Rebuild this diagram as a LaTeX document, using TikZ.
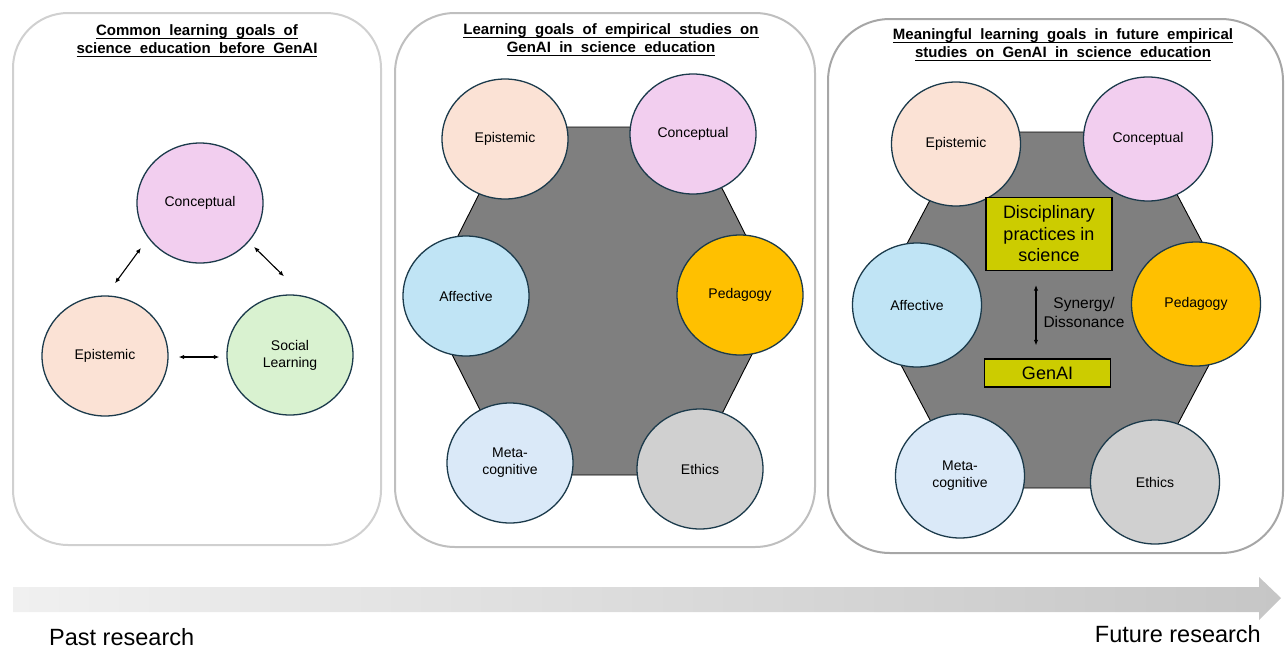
\documentclass[tikz,border=0pt]{standalone}
\usepackage{fontspec}
\setmainfont{Liberation Sans}
\newfontfamily\titlefont[WordSpace=2]{Liberation Sans}
\usetikzlibrary{shapes.geometric,arrows.meta,calc}

\definecolor{panelA}{HTML}{D0D0D0}
\definecolor{panelB}{HTML}{BFBFBF}
\definecolor{panelC}{HTML}{A6A6A6}
\definecolor{ring}{HTML}{1B3A4B}
\definecolor{cConc}{HTML}{F2CEEF}
\definecolor{cEpi}{HTML}{FBE2D5}
\definecolor{cSoc}{HTML}{D9F2D0}
\definecolor{cAff}{HTML}{C0E4F5}
\definecolor{cPed}{HTML}{FFC000}
\definecolor{cMeta}{HTML}{DAE9F8}
\definecolor{cEth}{HTML}{D0D0D0}
\definecolor{hexfill}{HTML}{7F7F7F}
\definecolor{olivebox}{HTML}{CCCC00}
\definecolor{barL}{HTML}{F0F0F0}
\definecolor{barR}{HTML}{C6C6C6}

% underlined heading line: rule just under the baseline
\newcommand\ulined[1]{\setbox0=\hbox{#1}\dp0=0pt\vtop{\copy0\kern1.8pt\hrule height 1.3pt}}

\begin{document}
\begin{tikzpicture}[x=1pt,y=-1pt,
  panel/.style={line width=2, rounded corners=#1},
  heading/.style={align=center, inner sep=0, font={\titlefont\bfseries\fontsize{15}{18}\selectfont}},
  goal/.style={ellipse, draw=ring, line width=1.3, inner sep=0, align=center,
               minimum width=126, minimum height=120, font={\fontsize{14}{17}\selectfont}},
  biggoal/.style={goal, minimum width=129, minimum height=124},
  hexa/.style={fill=hexfill, draw=black, line width=0.9},
  practice/.style={draw=black, fill=olivebox, line width=1.2, inner sep=0, align=center,
                   font={\fontsize{18}{21.5}\selectfont}},
  link/.style={line width=1.1, {Latex[length=5.5,width=4.5]}-{Latex[length=5.5,width=4.5]}},
]
\useasboundingbox (0,0) rectangle (1285,648);

% ---------- panel frames ----------
\draw[panel=55, draw=panelA] (13,13) rectangle (381,545);
\draw[panel=60, draw=panelB] (395,13) rectangle (815,547);
\draw[panel=62, draw=panelC] (828,19) rectangle (1283,553);

% ---------- panel 1: before GenAI ----------
\node[heading] (t1) at (197,41) {\ulined{Common learning goals of}\\\ulined{science education before GenAI}};
\node[goal, fill=cConc] (a1) at (200,203) {Conceptual};
\node[goal, fill=cEpi]  (b1) at (105,356) {Epistemic};
\node[goal, fill=cSoc]  (c1) at (290,355) {Social\\Learning};
\draw[link] ([shift={(10,-12)}]b1.north) -- ([shift={(-14,2)}]a1.south west);
\draw[link] ([shift={(9,1)}]a1.south east) -- ([shift={(-6,-18)}]c1.north);
\draw[link] ([shift={(10,1)}]b1.east) -- ([shift={(-7,2)}]c1.west);

% ---------- panel 2: empirical studies on GenAI ----------
\node[heading] (t2) at (611,40) {\ulined{Learning goals of empirical studies on}\\\ulined{GenAI in science education}};
\draw[hexa] (513,127) -- (691,127) -- (779,301) -- (691,475) -- (513,475) -- (425,301) -- cycle;
\node[goal, fill=cEpi]  (epi2)  at (505,139) {Epistemic};
\node[goal, fill=cConc] (con2)  at (693,134) {Conceptual};
\node[goal, fill=cAff]  (aff2)  at (466,296) {Affective};
\node[goal, fill=cPed]  (ped2)  at (740,295) {Pedagogy};
\node[goal, fill=cMeta] (meta2) at (510,463) {Meta-\\cognitive};
\node[goal, fill=cEth]  (eth2)  at (700,469) {Ethics};

% ---------- panel 3: future empirical studies ----------
\node[heading] (t3) at (1063,45) {\ulined{Meaningful learning goals in future empirical}\\\ulined{studies on GenAI in science education}};
\draw[hexa] (966,132) -- (1144,132) -- (1238,310) -- (1144,488) -- (966,488) -- (872,310) -- cycle;
\node[biggoal, fill=cEpi]  (epi3)  at (956,144) {Epistemic};
\node[biggoal, fill=cConc] (con3)  at (1148,139) {Conceptual};
\node[biggoal, fill=cAff]  (aff3)  at (917,305) {Affective};
\node[biggoal, fill=cPed]  (ped3)  at (1196,304) {Pedagogy};
\node[biggoal, fill=cMeta] (meta3) at (960,476) {Meta-\\cognitive};
\node[biggoal, fill=cEth]  (eth3)  at (1155,482) {Ethics};

\node[practice, minimum width=126, minimum height=73] (disc) at (1049,234) {Disciplinary\\practices in\\science};
\node[practice, minimum width=126, minimum height=28] (gen) at (1047.5,373) {GenAI};
\draw[link] ($(disc.south)+(-13,14)$) -- ($(gen.north)+(-11.5,-13)$);
\node[align=center, inner sep=0, font={\fontsize{15.5}{19}\selectfont}] (syn) at (1084,312) {Synergy/\\Dissonance};

% ---------- timeline ----------
\shade[left color=barL, right color=barR]
  (13,587) -- (1259,587) -- (1259,577) -- (1281,598) -- (1259,620) -- (1259,612) -- (13,612) -- cycle;
\node[anchor=west, inner sep=0, font={\fontsize{23.5}{26}\selectfont}] (past) at (49,637) {Past research};
\node[anchor=east, inner sep=0, font={\fontsize{23.5}{26}\selectfont}] (future) at (1261,634) {Future research};
\end{tikzpicture}
\end{document}
